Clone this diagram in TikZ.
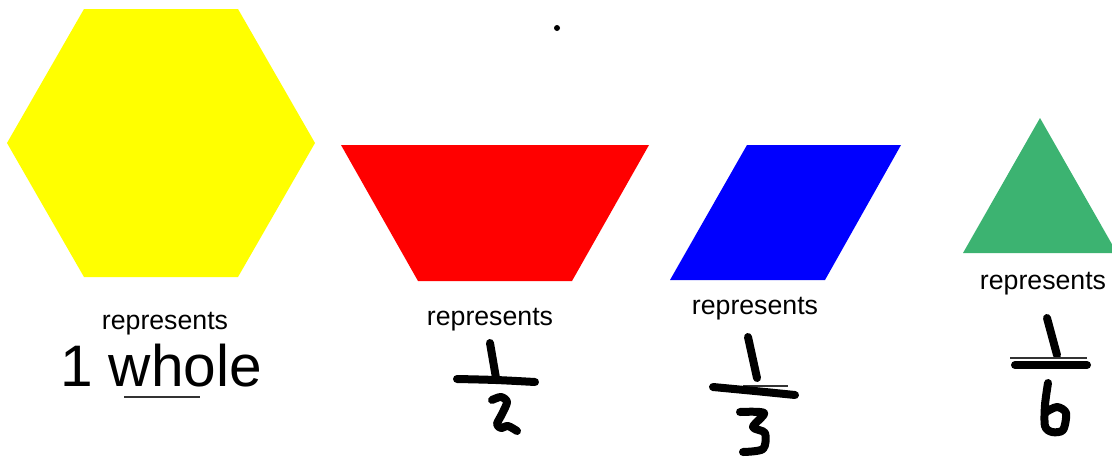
\documentclass[tikz,border=0pt]{standalone}
\usepackage{fontspec}
\setmainfont{Liberation Sans}
\usepackage{tikz}
\usetikzlibrary{calc}
\usepackage{xcolor}
\definecolor{hexyellow}{RGB}{255,255,0}
\definecolor{trapred}{RGB}{255,0,0}
\definecolor{rhombblue}{RGB}{0,0,255}
\definecolor{trigreen}{RGB}{60,179,113}
\tikzset{
  rep/.style={anchor=base,inner sep=0pt,font=\fontsize{26.7}{32}\selectfont},
  inkstroke/.style={line width=8pt,line cap=round,line join=round,black},
  thinink/.style={line width=1.2pt,black!80}
}

\begin{document}
\begin{tikzpicture}[x=1pt,y=-1pt]
  \useasboundingbox (0,0) rectangle (1112,456);

  % pattern blocks
  \fill[hexyellow] (84,9) -- (238,9) -- (315,143) -- (238,277) -- (84,277) -- (7,143) -- cycle;
  \fill[trapred] (341,145) -- (649,145) -- (572,281) -- (418,281) -- cycle;
  \fill[rhombblue] (747,145) -- (901,145) -- (825,280) -- (670,280) -- cycle;
  \fill[trigreen] (1040,118) -- (1117,253) -- (963,253) -- cycle;

  \fill[black] (557,28) circle (3);

  \node[rep] (repA) at (165,329) {represents};
  \node[rep] (repB) at (490,325) {represents};
  \node[rep] (repC) at (755,314) {represents};
  \node[rep] (repD) at (1043,289) {represents};

  \node[anchor=base,inner sep=0pt,font=\fontsize{58.6}{64}\selectfont] (whole) at (161,386) {1 whole};
  \draw[thinink] (124,397) -- (200,397);

  % one half
  \draw[inkstroke] (490,343) -- (496,378);
  \draw[inkstroke] plot[smooth] coordinates {(457,379) (496,380) (535,382)};
  \draw[inkstroke] plot[smooth] coordinates {(492,400) (501,397) (507,402) (502,414) (497,424) (501,428) (508,426) (517,431)};

  % one third
  \draw[inkstroke] (748,337) -- (757,378);
  \draw[thinink] (743,386) -- (788,386);
  \draw[inkstroke] plot[smooth] coordinates {(713,387) (755,391) (795,395)};
  \draw[inkstroke] plot[smooth] coordinates {(740,412) (764,413) (753,427) (765,433) (763,449) (743,452)};

  % one sixth
  \draw[inkstroke] (1047,318) -- (1057,355);
  \draw[thinink] (1010,358) -- (1087,358);
  \draw[inkstroke] (1015,365) -- (1087,365);
  \draw[inkstroke] plot[smooth] coordinates {(1048,383) (1045,405) (1045,426) (1052,432) (1063,430) (1066,413) (1057,407) (1046,412)};
\end{tikzpicture}
\end{document}
